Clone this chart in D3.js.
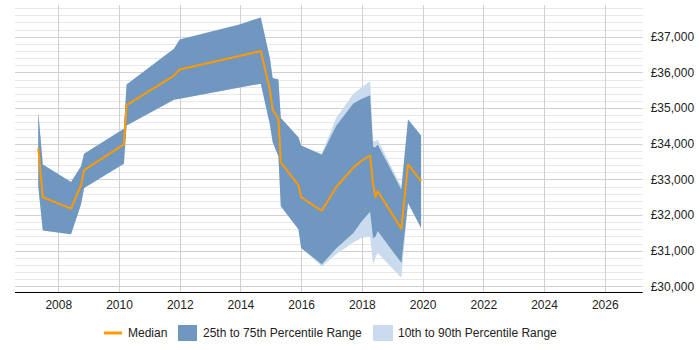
<!DOCTYPE html>
<html>
<head>
<meta charset="utf-8">
<script src="https://cdn.jsdelivr.net/npm/d3@7"></script>
<style>
  body { margin: 0; background: #fff; }
  text { font-family: "Liberation Sans", Arial, sans-serif; font-size: 12px; fill: #222; }
</style>
</head>
<body>
<div id="chart"></div>
<script>
// sample dates (fractional years) shared by every series
let dates = [2007.34, 2007.49, 2008.42, 2008.75, 2008.85, 2010.16, 2010.25, 2011.81, 2012.0, 2013.97,
  2014.67, 2014.97, 2015.06, 2015.25, 2015.33, 2015.91, 2016.0, 2016.68, 2017.15, 2017.72,
  2017.97, 2018.27, 2018.37, 2018.45, 2018.52, 2019.3, 2019.52, 2019.95];

let median = [33880, 32500, 32180, 32840, 33260, 33980, 35080, 35910, 36080, 36460,
  36600, 35520, 34960, 34700, 33480, 32840, 32500, 32120, 32780, 33330,
  33510, 33670, 32860, 32500, 32670, 31620, 33420, 32950];

let p75 = [34900, 33420, 32930, 33370, 33720, 34420, 35660, 36660, 36920, 37340,
  37540, 36400, 35840, 35800, 34720, 34180, 33950, 33690, 34500, 35130,
  35250, 35360, 33910, 33900, 33980, 32720, 34680, 34230];

let p25 = [32810, 31570, 31460, 32300, 32760, 33440, 34510, 35230, 35260, 35580,
  35680, 34540, 34050, 33650, 32250, 31600, 31080, 30620, 31060, 31500,
  31800, 32090, 31360, 31400, 31550, 30660, 32340, 31640];

let p90 = [34900, 33420, 32930, 33370, 33720, 34420, 35660, 36660, 36920, 37340,
  37540, 36400, 35840, 35800, 34720, 34180, 33950, 33720, 34720, 35400,
  35560, 35750, 34070, 34080, 34110, 32800, 34680, 34230];

let p10 = [32810, 31570, 31460, 32300, 32760, 33440, 34510, 35230, 35260, 35580,
  35680, 34540, 34050, 33650, 32250, 31600, 31080, 30560, 30900, 31230,
  31350, 31400, 30600, 30800, 30940, 30240, 32340, 31640];

let xTicks = [2008, 2010, 2012, 2014, 2016, 2018, 2020, 2022, 2024, 2026];
let yTicks = [30000, 31000, 32000, 33000, 34000, 35000, 36000, 37000];

let legendItems = ["Median", "25th to 75th Percentile Range", "10th to 90th Percentile Range"];

//layout
let svgWidth = 700;
let svgHeight = 350;
let plot = { left: 15, right: 642.7, top: 5, bottom: 292 };

let colMedian = "#ff9900";
let colInner = "#7097bf";
let colOuter = "#c9dbed";

let svg = d3.select("#chart")
  .append("svg")
  .attr("width", svgWidth)
  .attr("height", svgHeight);

let xScale = d3.scaleLinear()
  .domain([2006.574, 2027.25])
  .range([plot.left, plot.right]);

let yScale = d3.scaleLinear()
  .domain([29843, 37890])
  .range([plot.bottom, plot.top]);

let rows = dates.map((d, i) => ({
  x: d, med: median[i], lo: p25[i], hi: p75[i], lo10: p10[i], hi90: p90[i]
}));

// minor gridlines every 200
let minor = d3.range(30000, 37900, 200).filter(v => v % 1000 !== 0);
svg.append("g")
  .selectAll("line")
  .data(minor)
  .enter()
  .append("line")
  .attr("x1", plot.left)
  .attr("x2", plot.right)
  .attr("y1", d => Math.round(yScale(d)) + 0.5)
  .attr("y2", d => Math.round(yScale(d)) + 0.5)
  .attr("stroke", "#e8e8e8");

// major gridlines
svg.append("g")
  .selectAll("line")
  .data(yTicks)
  .enter()
  .append("line")
  .attr("x1", plot.left)
  .attr("x2", plot.right)
  .attr("y1", d => Math.round(yScale(d)) + 0.5)
  .attr("y2", d => Math.round(yScale(d)) + 0.5)
  .attr("stroke", "#d0d0d0");

// vertical gridlines
svg.append("g")
  .selectAll("line")
  .data(xTicks)
  .enter()
  .append("line")
  .attr("x1", d => Math.round(xScale(d)) + 0.5)
  .attr("x2", d => Math.round(xScale(d)) + 0.5)
  .attr("y1", plot.top)
  .attr("y2", plot.bottom)
  .attr("stroke", "#d0d0d0");

/********************************************/
// bands
let outerArea = d3.area()
  .x(d => xScale(d.x))
  .y0(d => yScale(d.lo10))
  .y1(d => yScale(d.hi90));

let innerArea = d3.area()
  .x(d => xScale(d.x))
  .y0(d => yScale(d.lo))
  .y1(d => yScale(d.hi));

svg.append("path")
  .datum(rows)
  .attr("d", outerArea)
  .attr("fill", colOuter);

svg.append("path")
  .datum(rows)
  .attr("d", innerArea)
  .attr("fill", colInner);

let medLine = d3.line()
  .x(d => xScale(d.x))
  .y(d => yScale(d.med));

svg.append("path")
  .datum(rows)
  .attr("d", medLine)
  .attr("fill", "none")
  .attr("stroke", colMedian)
  .attr("stroke-width", 2)
  .attr("stroke-linejoin", "round");

/********************************************/
// axes
let xAxis = d3.axisBottom(xScale)
  .tickValues(xTicks)
  .tickFormat(d3.format("d"))
  .tickSize(0)
  .tickPadding(8);

let xg = svg.append("g")
  .attr("transform", `translate(0, ${plot.bottom})`)
  .call(xAxis);
xg.select(".domain").remove();
xg.selectAll("text").attr("font-size", 12).attr("font-family", null).attr("fill", "#222");

svg.append("line")
  .attr("x1", plot.left)
  .attr("x2", plot.right)
  .attr("y1", plot.bottom + 0.5)
  .attr("y2", plot.bottom + 0.5)
  .attr("stroke", "#000");

let yAxis = d3.axisRight(yScale)
  .tickValues(yTicks)
  .tickFormat(d => "£" + d3.format(",")(d))
  .tickSize(0)
  .tickPadding(8);

let yg = svg.append("g")
  .attr("transform", `translate(${plot.right}, 0)`)
  .call(yAxis);
yg.select(".domain").remove();
yg.selectAll("text").attr("font-size", 12).attr("font-family", null).attr("fill", "#222");

/********************************************/
// legend
let lg = svg.append("g").attr("transform", "translate(0, 333)");

lg.append("line")
  .attr("x1", 104).attr("x2", 122)
  .attr("y1", 0).attr("y2", 0)
  .attr("stroke", colMedian)
  .attr("stroke-width", 3);
lg.append("text").attr("x", 128).attr("y", 0).attr("dy", "0.35em").text(legendItems[0]);

lg.append("rect")
  .attr("x", 178).attr("y", -8).attr("width", 19).attr("height", 16)
  .attr("fill", colInner);
lg.append("text").attr("x", 203).attr("y", 0).attr("dy", "0.35em").text(legendItems[1]);

lg.append("rect")
  .attr("x", 373).attr("y", -8).attr("width", 20).attr("height", 16)
  .attr("fill", colOuter);
lg.append("text").attr("x", 398).attr("y", 0).attr("dy", "0.35em").text(legendItems[2]);
</script>
</body>
</html>
